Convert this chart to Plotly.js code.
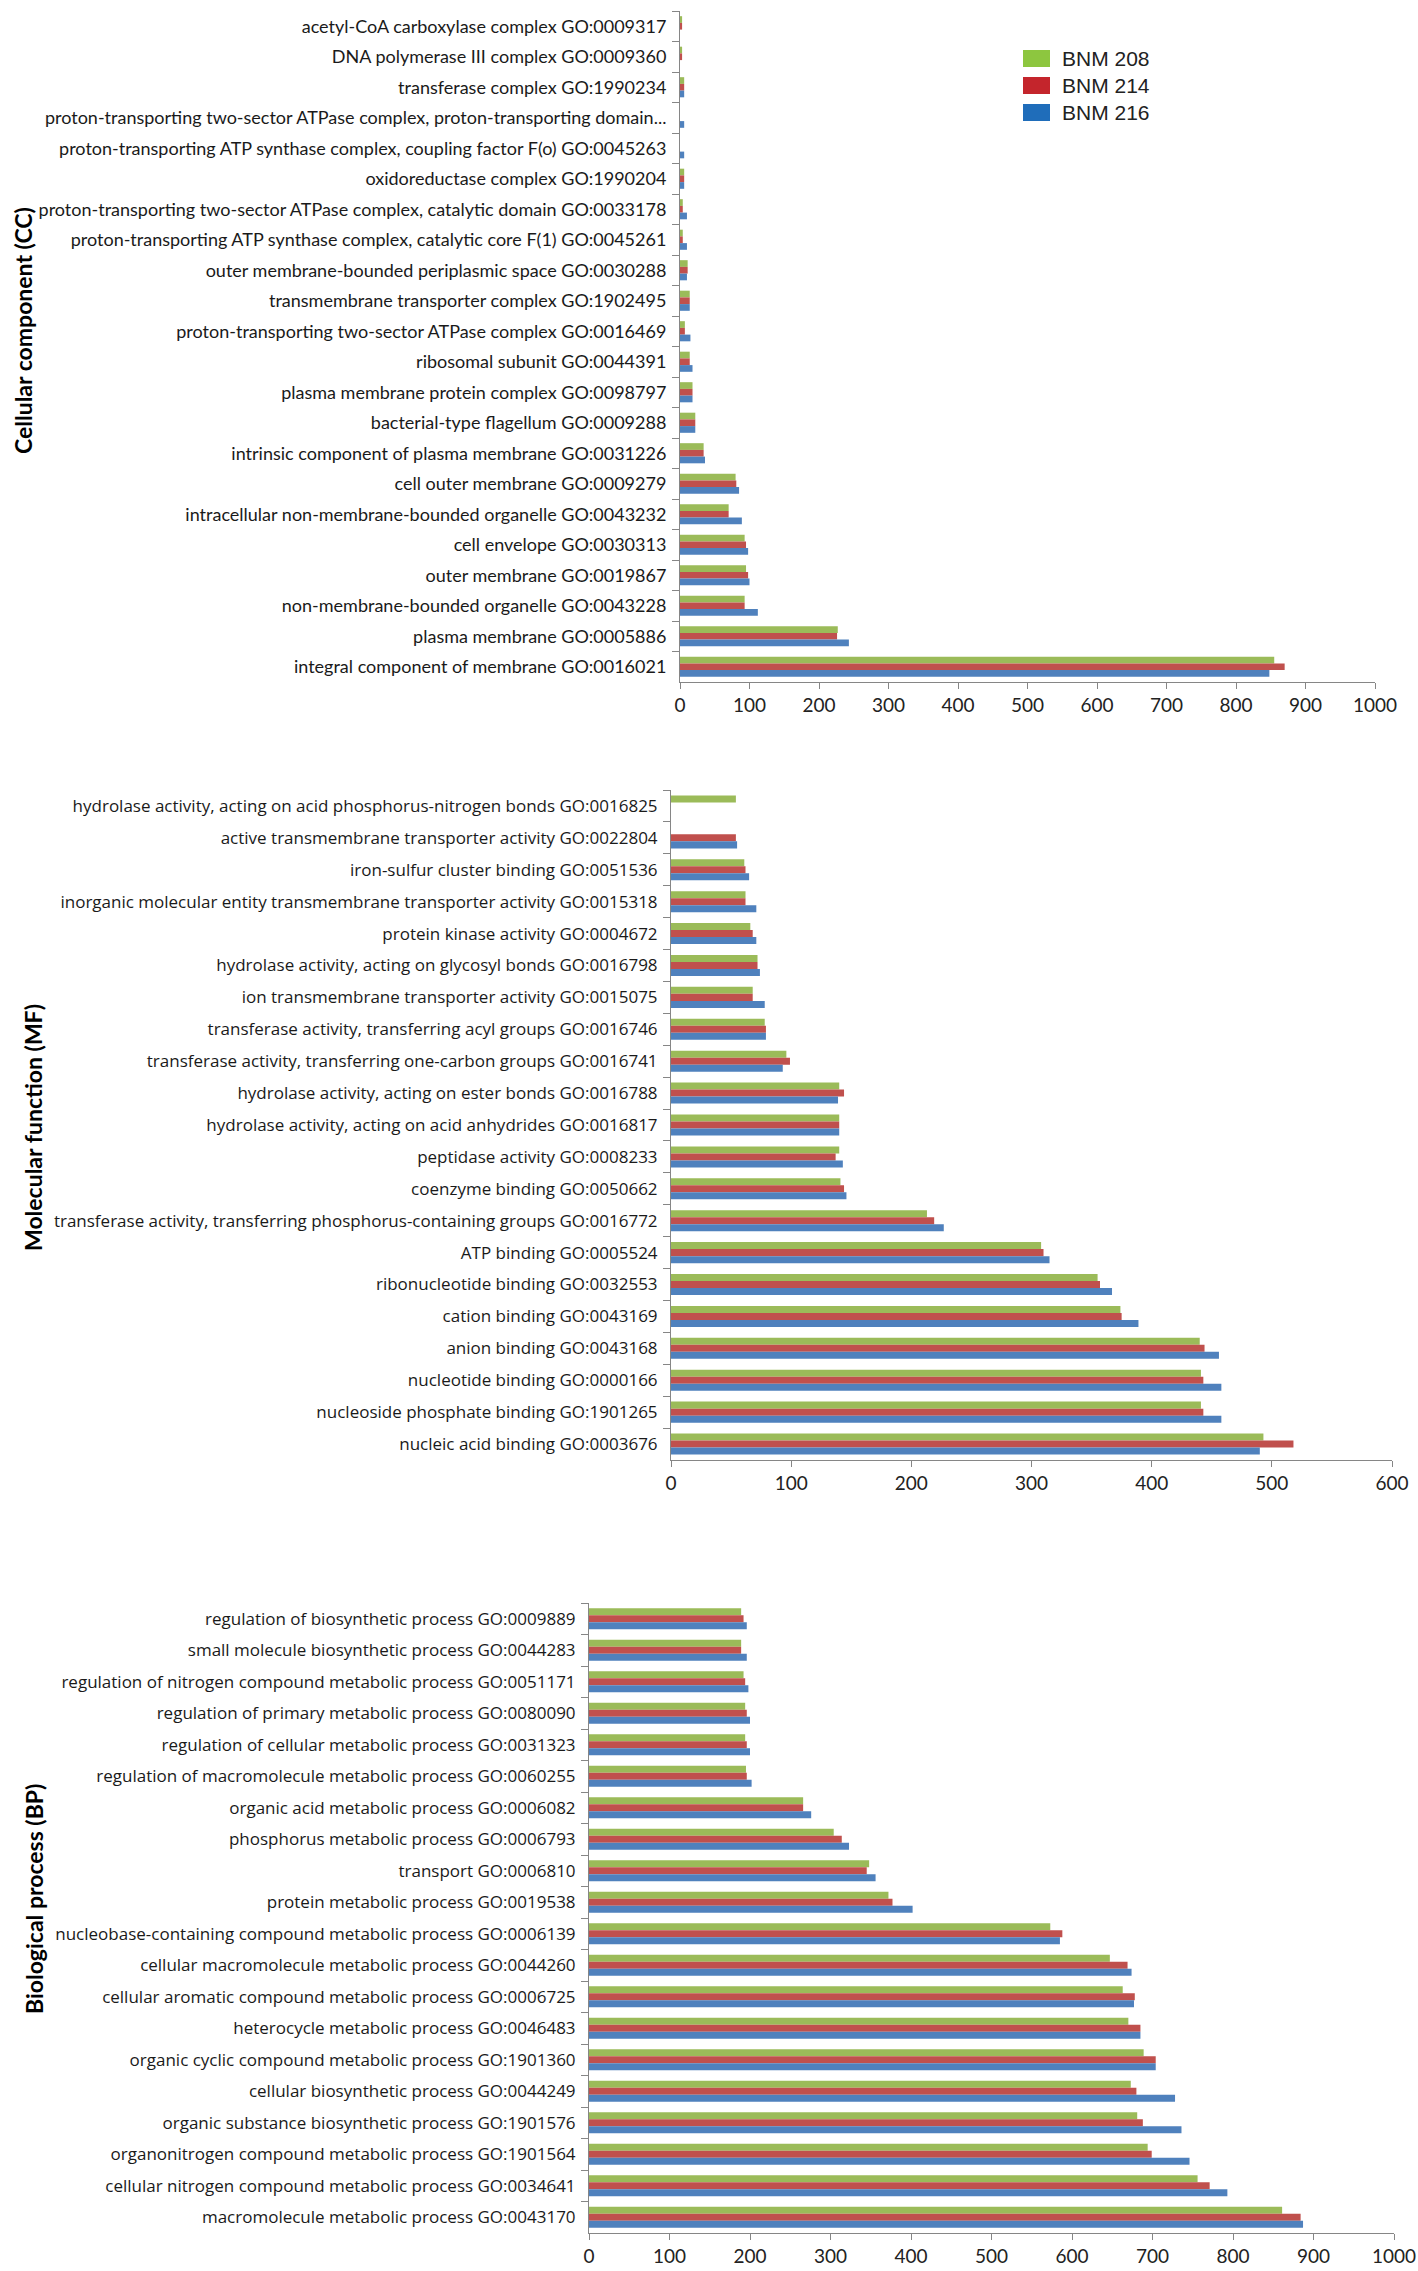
<!DOCTYPE html>
<html><head><meta charset="utf-8">
<script src="https://cdn.plot.ly/plotly-3.0.1.min.js"></script>
<style>html,body{margin:0;padding:0;background:#fff}</style>
</head><body>
<div id="chart" style="width:1418px;height:2271px"></div>
<script>
// ---------- data ----------
const seriesNames = ['BNM 208', 'BNM 214', 'BNM 216'];

const ccCategories = [
  'acetyl-CoA carboxylase complex GO:0009317',
  'DNA polymerase III complex GO:0009360',
  'transferase complex GO:1990234',
  'proton-transporting two-sector ATPase complex, proton-transporting domain...',
  'proton-transporting ATP synthase complex, coupling factor F(o) GO:0045263',
  'oxidoreductase complex GO:1990204',
  'proton-transporting two-sector ATPase complex, catalytic domain GO:0033178',
  'proton-transporting ATP synthase complex, catalytic core F(1) GO:0045261',
  'outer membrane-bounded periplasmic space GO:0030288',
  'transmembrane transporter complex GO:1902495',
  'proton-transporting two-sector ATPase complex GO:0016469',
  'ribosomal subunit GO:0044391',
  'plasma membrane protein complex GO:0098797',
  'bacterial-type flagellum GO:0009288',
  'intrinsic component of plasma membrane GO:0031226',
  'cell outer membrane GO:0009279',
  'intracellular non-membrane-bounded organelle GO:0043232',
  'cell envelope GO:0030313',
  'outer membrane GO:0019867',
  'non-membrane-bounded organelle GO:0043228',
  'plasma membrane GO:0005886',
  'integral component of membrane GO:0016021'
];
const cc208 = [3, 3, 6, 0, 0, 6, 4, 4, 11, 14, 7, 14, 18, 22, 34, 80, 70, 93, 95, 93, 227, 855];
const cc214 = [3, 3, 6, 0, 0, 6, 4, 4, 11, 14, 7, 14, 18, 22, 34, 81, 70, 95, 98, 93, 226, 870];
const cc216 = [0, 0, 6, 6, 6, 6, 10, 10, 10, 14, 15, 18, 18, 22, 36, 85, 89, 98, 100, 112, 243, 848];

const mfCategories = [
  'hydrolase activity, acting on acid phosphorus-nitrogen bonds GO:0016825',
  'active transmembrane transporter activity GO:0022804',
  'iron-sulfur cluster binding GO:0051536',
  'inorganic molecular entity transmembrane transporter activity GO:0015318',
  'protein kinase activity GO:0004672',
  'hydrolase activity, acting on glycosyl bonds GO:0016798',
  'ion transmembrane transporter activity GO:0015075',
  'transferase activity, transferring acyl groups GO:0016746',
  'transferase activity, transferring one-carbon groups GO:0016741',
  'hydrolase activity, acting on ester bonds GO:0016788',
  'hydrolase activity, acting on acid anhydrides GO:0016817',
  'peptidase activity GO:0008233',
  'coenzyme binding GO:0050662',
  'transferase activity, transferring phosphorus-containing groups GO:0016772',
  'ATP binding GO:0005524',
  'ribonucleotide binding GO:0032553',
  'cation binding GO:0043169',
  'anion binding GO:0043168',
  'nucleotide binding GO:0000166',
  'nucleoside phosphate binding GO:1901265',
  'nucleic acid binding GO:0003676'
];
const mf208 = [54, 0, 61, 62, 66, 72, 68, 78, 96, 140, 140, 140, 141, 213, 308, 355, 374, 440, 441, 441, 493];
const mf214 = [0, 54, 62, 62, 68, 72, 68, 79, 99, 144, 140, 137, 144, 219, 310, 357, 375, 444, 443, 443, 518];
const mf216 = [0, 55, 65, 71, 71, 74, 78, 79, 93, 139, 140, 143, 146, 227, 315, 367, 389, 456, 458, 458, 490];

const bpCategories = [
  'regulation of biosynthetic process GO:0009889',
  'small molecule biosynthetic process GO:0044283',
  'regulation of nitrogen compound metabolic process GO:0051171',
  'regulation of primary metabolic process GO:0080090',
  'regulation of cellular metabolic process GO:0031323',
  'regulation of macromolecule metabolic process GO:0060255',
  'organic acid metabolic process GO:0006082',
  'phosphorus metabolic process GO:0006793',
  'transport GO:0006810',
  'protein metabolic process GO:0019538',
  'nucleobase-containing compound metabolic process GO:0006139',
  'cellular macromolecule metabolic process GO:0044260',
  'cellular aromatic compound metabolic process GO:0006725',
  'heterocycle metabolic process GO:0046483',
  'organic cyclic compound metabolic process GO:1901360',
  'cellular biosynthetic process GO:0044249',
  'organic substance biosynthetic process GO:1901576',
  'organonitrogen compound metabolic process GO:1901564',
  'cellular nitrogen compound metabolic process GO:0034641',
  'macromolecule metabolic process GO:0043170'
];
const bp208 = [189, 189, 192, 194, 194, 195, 266, 304, 348, 372, 573, 647, 663, 670, 689, 673, 681, 694, 756, 861];
const bp214 = [192, 189, 194, 196, 196, 196, 266, 314, 345, 377, 588, 669, 678, 685, 704, 680, 688, 699, 771, 884];
const bp216 = [196, 196, 198, 200, 200, 202, 276, 323, 356, 402, 585, 674, 677, 685, 704, 728, 736, 746, 793, 887];

const barColors = ['#9BBB59', '#C0504D', '#4F81BD'];
const legendColors = ['#8DC63F', '#C4252C', '#1F6DBA'];

// ---------- build ----------
const W = 1418, H = 2271;
const px = v => v / W, py = v => 1 - v / H;

function panel(cats, vals, ax) {
  return vals.map((v, i) => ({
    type: 'bar', orientation: 'h',
    x: v, y: cats, name: seriesNames[i],
    marker: {color: barColors[i], line: {width: 0}},
    xaxis: 'x' + ax, yaxis: 'y' + ax,
    showlegend: false, hoverinfo: 'x+y+name'
  }));
}

const traces = [].concat(
  panel(ccCategories, [cc208, cc214, cc216], ''),
  panel(mfCategories, [mf208, mf214, mf216], '2'),
  panel(bpCategories, [bp208, bp214, bp216], '3')
);

const axisCol = '#868686';
function xax(domain, anchor, range, fontSize) {
  return {
    domain: domain, anchor: anchor, range: range, dtick: 100, tick0: 0,
    showgrid: false, zeroline: false, showline: true, linecolor: axisCol, linewidth: 1,
    ticks: 'outside', ticklen: 6, tickcolor: axisCol,
    tickfont: {family: 'Lato, "Open Sans", sans-serif', size: fontSize, color: '#222'},
    fixedrange: true
  };
}
function yax(domain, anchor, n, font) {
  return {
    domain: domain, anchor: anchor, type: 'category',
    range: [n - 0.5, -0.5],
    showgrid: false, zeroline: false, showline: true, linecolor: axisCol, linewidth: 1,
    ticks: 'outside', ticklen: 7, tickcolor: axisCol, tickson: 'boundaries',
    ticklabelstandoff: 9,
    tickfont: font, fixedrange: true
  };
}

const ccFont = {family: 'Lato, "Open Sans", sans-serif', size: 18, color: '#1a1a1a'};
const mfFont = {family: '"Open Sans", Lato, sans-serif', size: 17, color: '#1a1a1a'};

const titleFont = {family: 'Lato, "Liberation Sans", sans-serif', size: 23, color: '#000'};

const annotations = [
  {text: '<b>Cellular component (CC)</b>', xref: 'paper', yref: 'paper', x: px(23), y: py(331),
   textangle: -90, showarrow: false, font: titleFont, xanchor: 'center', yanchor: 'middle'},
  {text: '<b>Molecular function (MF)</b>', xref: 'paper', yref: 'paper', x: px(33), y: py(1128),
   textangle: -90, showarrow: false, font: titleFont, xanchor: 'center', yanchor: 'middle'},
  {text: '<b>Biological process (BP)</b>', xref: 'paper', yref: 'paper', x: px(34), y: py(1899),
   textangle: -90, showarrow: false, font: titleFont, xanchor: 'center', yanchor: 'middle'}
];
const shapes = [];
seriesNames.forEach((nm, i) => {
  const top = 50 + i * 27;
  shapes.push({type: 'rect', xref: 'paper', yref: 'paper',
    x0: px(1023), x1: px(1050), y0: py(top), y1: py(top + 17),
    fillcolor: legendColors[i], line: {width: 0}});
  annotations.push({text: nm, xref: 'paper', yref: 'paper', x: px(1060), y: py(top + 8.5),
    xanchor: 'left', yanchor: 'middle', showarrow: false,
    font: {family: '"Liberation Sans", Arial, sans-serif', size: 21, color: '#222'}});
});

const layout = {
  width: W, height: H,
  margin: {l: 0, r: 0, t: 0, b: 0, pad: 0},
  paper_bgcolor: '#fff', plot_bgcolor: '#fff',
  barmode: 'group', bargap: 0.34, bargroupgap: 0,
  showlegend: false,
  xaxis: xax([px(680), px(1375)], 'y', [0, 1000], 19),
  yaxis: yax([py(682), py(11)], 'x', ccCategories.length, ccFont),
  xaxis2: xax([px(671), px(1392)], 'y2', [0, 600], 19),
  yaxis2: yax([py(1460), py(790)], 'x2', mfCategories.length, mfFont),
  xaxis3: xax([px(589), px(1394)], 'y3', [0, 1000], 19),
  yaxis3: yax([py(2233), py(1603)], 'x3', bpCategories.length, mfFont),
  annotations: annotations,
  shapes: shapes
};

Plotly.newPlot('chart', traces, layout, {displayModeBar: false, staticPlot: true});
</script>
</body></html>
